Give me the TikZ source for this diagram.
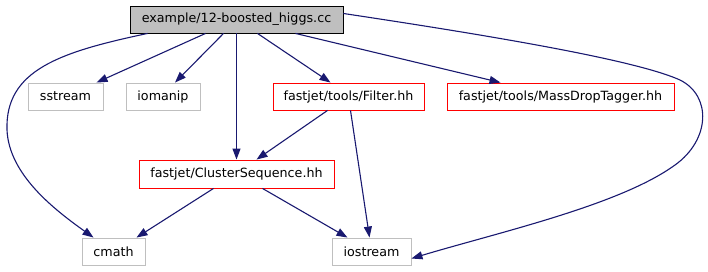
\documentclass[tikz,border=0pt]{standalone}
\usepackage{fontspec}
\setmainfont{DejaVu Sans}
\usetikzlibrary{arrows.meta}
\definecolor{edgeblue}{HTML}{191970}
\definecolor{sysgray}{HTML}{BFBFBF}
\begin{document}
\begin{tikzpicture}[x=1pt,y=-1pt,
  box/.style={draw,line width=0.9pt,inner sep=0pt,minimum height=27pt,font=\fontsize{12.7}{14}\selectfont},
  sys/.style={box,draw=sysgray},
  proj/.style={box,draw=red},
  dep/.style={edgeblue,line width=1.1pt,-{Triangle[length=11pt,width=8pt]}}]
\useasboundingbox (0,0) rectangle (708,272);
\node[box,fill=sysgray,minimum width=213pt] (main) at (236.5,19.5) {example/12-boosted\_higgs.cc};

\node[sys,minimum width=75pt] (sstream) at (65.5,96.5) {sstream};
\node[sys,minimum width=74pt] (iomanip) at (163,96.5) {iomanip};
\node[proj,minimum width=151pt] (filter) at (348.5,96.5) {fastjet/tools/Filter.hh};
\node[proj,minimum width=227pt] (mdt) at (560.5,96.5) {fastjet/tools/MassDropTagger.hh};

\node[proj,minimum width=195pt,minimum height=28pt] (cs) at (236.5,174) {fastjet/ClusterSequence.hh};

\node[sys,minimum width=63pt] (cmath) at (113.5,251.5) {cmath};
\node[sys,minimum width=79pt] (iostream) at (371.5,251.5) {iostream};

\draw[dep] ([xshift=18pt]main.south west) .. controls (60,52) and (5,70) .. (7,130)
  .. controls (9,175) and (55,210) .. ([xshift=-20pt]cmath.north);
\draw[dep] ([xshift=-31pt]main.south) -- ([xshift=31pt]sstream.north);
\draw[dep] ([xshift=-13pt]main.south) -- ([xshift=12pt]iomanip.north);
\draw[dep] (main.south) -- (cs.north);
\draw[dep] ([xshift=21pt]main.south) -- ([xshift=-18pt]filter.north);
\draw[dep] ([xshift=59pt]main.south) -- ([xshift=-60pt]mdt.north);
\draw[dep] ([yshift=6pt]main.east) .. controls (520,40) and (640,62) .. (680,80)
  .. controls (712,96) and (710,140) .. (675,165)
  .. controls (620,205) and (500,232) .. ([yshift=-7pt]iostream.east);

\draw[dep] ([xshift=-21pt]filter.south) -- ([xshift=20pt]cs.north);
\draw[dep] ([xshift=2pt]filter.south) -- ([xshift=-2pt]iostream.north);

\draw[dep] ([xshift=-23pt]cs.south) -- ([xshift=23pt]cmath.north);
\draw[dep] ([xshift=26pt]cs.south) -- ([xshift=-24pt]iostream.north);
\end{tikzpicture}
\end{document}
